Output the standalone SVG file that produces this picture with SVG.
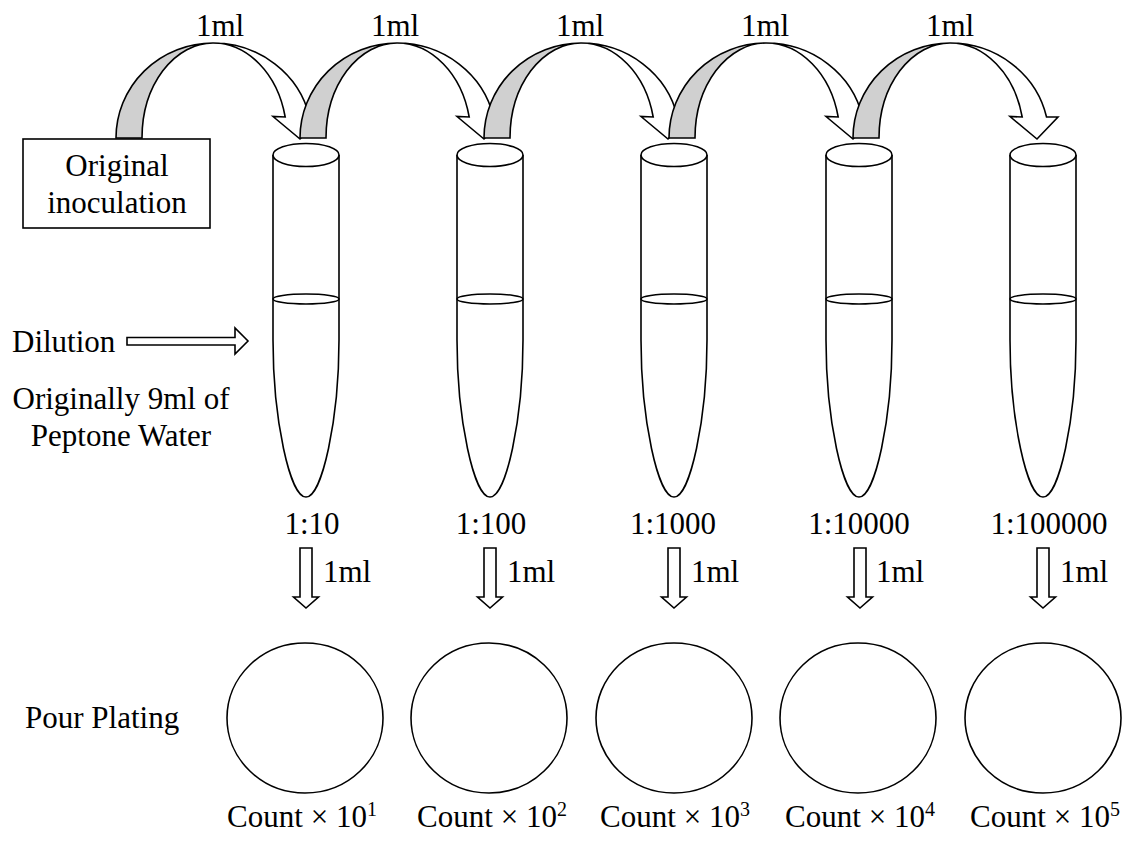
<svg xmlns="http://www.w3.org/2000/svg" xmlns:xlink="http://www.w3.org/1999/xlink" width="1142" height="844" viewBox="0 0 1142 844">
  <style>
    .t { font-family: 'Liberation Serif', 'DejaVu Serif', serif; font-size: 31px; fill: #000; }
    .mid { text-anchor: middle; }
    .ln { fill: none; stroke: #000; stroke-width: 1.6; }
    .wf { fill: #fff; stroke: #000; stroke-width: 1.6; stroke-linejoin: miter; }
    .gf { fill: #d0d0d0; stroke: #000; stroke-width: 1.6; }
    .sup { font-size: 20px; }
  </style>
  <defs>
    <!-- twisted ribbon arrow: grey underside rising, white top side falling into the next tube -->
    <g id="curl">
      <path class="wf" d="M 91 43 A 99 95 0 0 1 187.55 117 L 199 117 L 178 139 L 151 116.5 L 163.2 117 A 74 95 0 0 0 91 43 Z"/>
      <path class="gf" d="M -6 138 A 97 95 0 0 1 91 43 A 71 95 0 0 0 20 138 Z"/>
    </g>
    <!-- small block arrow pointing down -->
    <path id="down" class="wf" d="M -6 548 L 6 548 L 6 597 L 12.5 597 L 0 608 L -12.5 597 L -6 597 Z"/>
    <!-- test tube: body, liquid level, open top -->
    <g id="tube">
      <path class="ln" d="M -33 155 L -33 340 C -33 420 -16 497 0 497 C 16 497 33 420 33 340 L 33 155"/>
      <ellipse class="ln" cx="0" cy="299" rx="33" ry="5"/>
      <ellipse class="wf" cx="0" cy="155" rx="33" ry="11.5"/>
    </g>
  </defs>

  <rect width="1142" height="844" fill="#fff"/>

  <g font-family="Liberation Serif, DejaVu Serif, serif">
  <g id="source">
    <rect class="wf" x="23" y="139" width="187" height="89"/>
    <text class="t mid" x="117" y="176">Original</text>
    <text class="t mid" x="117" y="213">inoculation</text>
  </g>

  <g id="tube1"><use xlink:href="#tube" x="306"/></g>
  <g id="tube2"><use xlink:href="#tube" x="490"/></g>
  <g id="tube3"><use xlink:href="#tube" x="674"/></g>
  <g id="tube4"><use xlink:href="#tube" x="859"/></g>
  <g id="tube5"><use xlink:href="#tube" x="1043"/></g>

  <g id="connectors">
    <use xlink:href="#curl" x="122"/>
    <use xlink:href="#curl" x="306"/>
    <use xlink:href="#curl" x="490"/>
    <use xlink:href="#curl" x="675"/>
    <use xlink:href="#curl" x="859"/>

    <path class="wf" d="M 127 337.5 L 235 337.5 L 235 328 L 248 341 L 235 354 L 235 345 L 127 345 Z"/>

    <use xlink:href="#down" x="306"/>
    <use xlink:href="#down" x="490"/>
    <use xlink:href="#down" x="674"/>
    <use xlink:href="#down" x="860"/>
    <use xlink:href="#down" x="1043"/>
  </g>

  <g id="transfer-labels">
    <text class="t mid" x="220" y="36">1ml</text>
    <text class="t mid" x="395" y="36">1ml</text>
    <text class="t mid" x="580" y="36">1ml</text>
    <text class="t mid" x="765" y="36">1ml</text>
    <text class="t mid" x="950" y="36">1ml</text>
  </g>

  <g id="side-labels">
    <text class="t" x="12" y="352">Dilution</text>
    <text class="t mid" x="121" y="409">Originally 9ml of</text>
    <text class="t mid" x="121" y="446">Peptone Water</text>
    <text class="t" x="25" y="728">Pour Plating</text>
  </g>

  <g id="dilution-labels">
    <text class="t mid" x="312" y="534">1:10</text>
    <text class="t mid" x="491" y="534">1:100</text>
    <text class="t mid" x="673" y="534">1:1000</text>
    <text class="t mid" x="859" y="534">1:10000</text>
    <text class="t mid" x="1049" y="534">1:100000</text>
    <text class="t" x="323" y="582">1ml</text>
    <text class="t" x="507" y="582">1ml</text>
    <text class="t" x="691" y="582">1ml</text>
    <text class="t" x="876" y="582">1ml</text>
    <text class="t" x="1060" y="582">1ml</text>
  </g>

  <g id="plate1">
    <ellipse class="ln" cx="305" cy="718" rx="78" ry="75"/>
    <text class="t mid" x="302" y="827">Count × 10<tspan class="sup" dy="-11">1</tspan></text>
  </g>
  <g id="plate2">
    <ellipse class="ln" cx="489" cy="718" rx="78" ry="75"/>
    <text class="t mid" x="492" y="827">Count × 10<tspan class="sup" dy="-11">2</tspan></text>
  </g>
  <g id="plate3">
    <ellipse class="ln" cx="674" cy="718" rx="78" ry="75"/>
    <text class="t mid" x="675" y="827">Count × 10<tspan class="sup" dy="-11">3</tspan></text>
  </g>
  <g id="plate4">
    <ellipse class="ln" cx="858" cy="718" rx="78" ry="75"/>
    <text class="t mid" x="860" y="827">Count × 10<tspan class="sup" dy="-11">4</tspan></text>
  </g>
  <g id="plate5">
    <ellipse class="ln" cx="1043" cy="718" rx="78" ry="75"/>
    <text class="t mid" x="1045" y="827">Count × 10<tspan class="sup" dy="-11">5</tspan></text>
  </g>
  </g>
</svg>
